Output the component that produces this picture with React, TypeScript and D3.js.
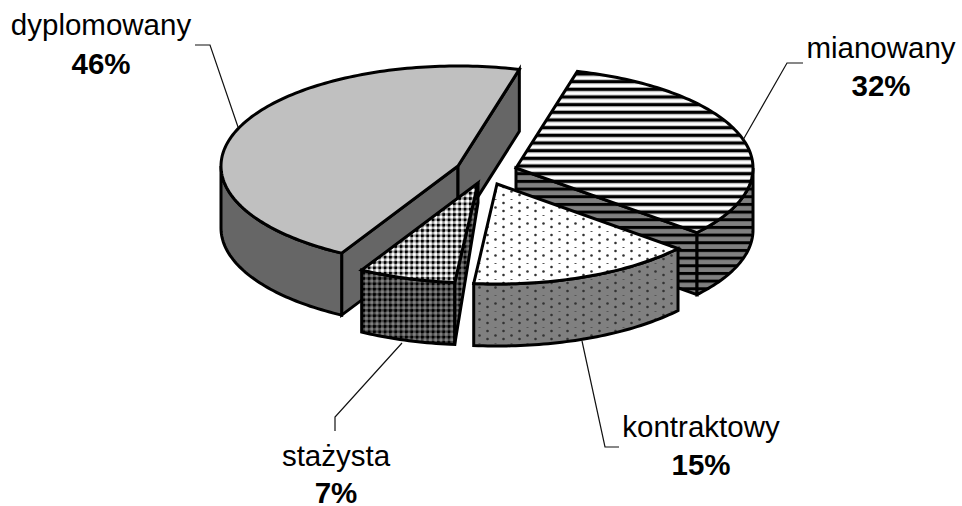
import React from "react";
import * as d3 from "d3";

const categories = ["mianowany", "kontraktowy", "stażysta", "dyplomowany"];
const shares = [32, 15.4, 6.6, 46];

const W = 962, H = 506;
const RX = 237, RY = 100, DEPTH = 62;
const FONT = "'Liberation Sans', Arial, sans-serif";

const apexes: Record<string, [number, number]> = {
  mianowany: [516, 168],
  kontraktowy: [497, 184],
  "stażysta": [478, 183],
  dyplomowany: [458, 166],
};
const apexDepth: Record<string, number> = {
  mianowany: 62,
  kontraktowy: 62,
  "stażysta": 20,
  dyplomowany: 62,
};
const topFill: Record<string, string> = {
  mianowany: "url(#stripeTop)",
  kontraktowy: "url(#dotTop)",
  "stażysta": "url(#checkTop)",
  dyplomowany: "#c0c0c0",
};
const sideFill: Record<string, string> = {
  mianowany: "url(#stripeSide)",
  kontraktowy: "url(#dotSide)",
  "stażysta": "url(#checkSide)",
  dyplomowany: "#666666",
};
const drawOrder = ["mianowany", "kontraktowy", "dyplomowany", "stażysta"];
const labels: Record<string, { x: number; y1: number; y2: number; lead: [number, number][] }> = {
  dyplomowany: { x: 101, y1: 35, y2: 74, lead: [[195, 45], [210, 45], [238, 127]] },
  mianowany: { x: 881, y1: 58, y2: 96, lead: [[743, 140], [787, 63], [803, 63]] },
  kontraktowy: { x: 701, y1: 437, y2: 475, lead: [[582, 341], [605, 447], [619, 447]] },
  "stażysta": { x: 336, y1: 466, y2: 503, lead: [[402, 343], [335, 417], [335, 431]] },
};

const pct = d3.format(".0f");
const line = d3.line();
const START = (15 * Math.PI) / 180;

const pie = d3
  .pie<number>()
  .sort(null)
  .startAngle(START)
  .endAngle(START + 2 * Math.PI)
  .value((d) => d);

function rim(apex: [number, number], t: number, dz = 0): [number, number] {
  return [apex[0] + RX * Math.sin(t), apex[1] - RY * Math.cos(t) + dz];
}
function arcPts(apex: [number, number], a: number, b: number, dz = 0): [number, number][] {
  const n = Math.max(2, Math.ceil(Math.abs(b - a) / 0.02));
  const s = d3.scaleLinear().domain([0, n]).range([a, b]);
  return d3.range(n + 1).map((i) => rim(apex, s(i), dz));
}

function Slice({ name, a, b }: { name: string; a: number; b: number }) {
  const c = apexes[name];
  const P = Math.PI;
  const faces: React.ReactNode[] = [];
  const st = { stroke: "#000", strokeWidth: 3, strokeLinejoin: "miter" as const, strokeMiterlimit: 6 };
  const below: [number, number] = [c[0], c[1] + apexDepth[name]];
  const wall = (t: number, key: string) => (
    <path key={key} d={line([c, rim(c, t), rim(c, t, DEPTH), below])! + "Z"} fill={sideFill[name]} {...st} />
  );
  // A radial wall is seen when its outward normal points towards the viewer.
  if (Math.cos(a - P / 2) < 0) faces.push(wall(a, "w0"));
  if (Math.cos(b + P / 2) < 0) faces.push(wall(b, "w1"));
  // Outer wall: the part of the rim facing front (t in 90..270 degrees)
  const lo = Math.max(a, P / 2), hi = Math.min(b, (3 * P) / 2);
  if (hi > lo) {
    const pts = [...arcPts(c, lo, hi), ...arcPts(c, hi, lo, DEPTH)];
    faces.push(<path key="o" d={line(pts)! + "Z"} fill={sideFill[name]} {...st} />);
  }
  const top = [c, ...arcPts(c, a, b)];
  faces.push(<path key="t" d={line(top)! + "Z"} fill={topFill[name]} {...st} />);
  return <g>{faces}</g>;
}

function DotTile({ id, bg }: { id: string; bg: string }) {
  const big = [[0.5, 0], [16.5, 0], [0.5, 16], [16.5, 16], [0.5, 8], [16.5, 8], [8.5, 12.5]];
  return (
    <pattern id={id} patternUnits="userSpaceOnUse" width={16} height={16} x={7} y={3}>
      <rect width={16} height={16} fill={bg} />
      {big.map(([cx, cy], i) => (
        <circle key={i} cx={cx} cy={cy} r={1.3} fill="#333" />
      ))}
      <rect x={7.5} y={4} width={2} height={1} fill="#555" />
    </pattern>
  );
}

export default function App() {
  const arcs = pie(shares);
  const byName = new Map(categories.map((n, i) => [n, arcs[i]]));
  return (
    <svg width={W} height={H} viewBox={`0 0 ${W} ${H}`} style={{ position: "absolute", left: 0, top: 0, background: "#fff" }}>
      <defs>
        <pattern id="stripeTop" patternUnits="userSpaceOnUse" width={8} height={7.67} y={3.5}>
          <rect width={8} height={7.67} fill="#fff" />
          <rect y={0} width={8} height={3} fill="#000" />
          <rect y={3} width={8} height={1} fill="#aaa" />
          <rect y={6.87} width={8} height={0.8} fill="#aaa" />
        </pattern>
        <pattern id="stripeSide" patternUnits="userSpaceOnUse" width={8} height={7.67} y={3.5}>
          <rect width={8} height={7.67} fill="#808080" />
          <rect y={0} width={8} height={3} fill="#000" />
        </pattern>
        <DotTile id="dotTop" bg="#fff" />
        <DotTile id="dotSide" bg="#808080" />
        <pattern id="checkTop" patternUnits="userSpaceOnUse" width={5.33} height={5.33}>
          <rect width={5.33} height={5.33} fill="#999" />
          <rect x={0} y={0} width={2.67} height={2.67} fill="#000" />
          <rect x={2.4} y={2.4} width={2.93} height={2.93} fill="#fff" />
        </pattern>
        <pattern id="checkSide" patternUnits="userSpaceOnUse" width={5.33} height={5.33}>
          <rect width={5.33} height={5.33} fill="#444" />
          <rect x={0} y={0} width={2.67} height={2.67} fill="#000" />
          <rect x={2.4} y={2.4} width={2.93} height={2.93} fill="#808080" />
        </pattern>
      </defs>
      {drawOrder.map((n) => {
        const d = byName.get(n)!;
        return <Slice key={n} name={n} a={d.startAngle} b={d.endAngle} />;
      })}
      {categories.map((n, i) => {
        const l = labels[n];
        return (
          <g key={n} fontFamily={FONT} fontSize={29.5} fill="#000" textAnchor="middle">
            <path d={line(l.lead)!} fill="none" stroke="#111" strokeWidth={1.2} />
            <text x={l.x} y={l.y1}>{n}</text>
            <text x={l.x} y={l.y2} fontWeight="bold">{pct(shares[i])}%</text>
          </g>
        );
      })}
    </svg>
  );
}
